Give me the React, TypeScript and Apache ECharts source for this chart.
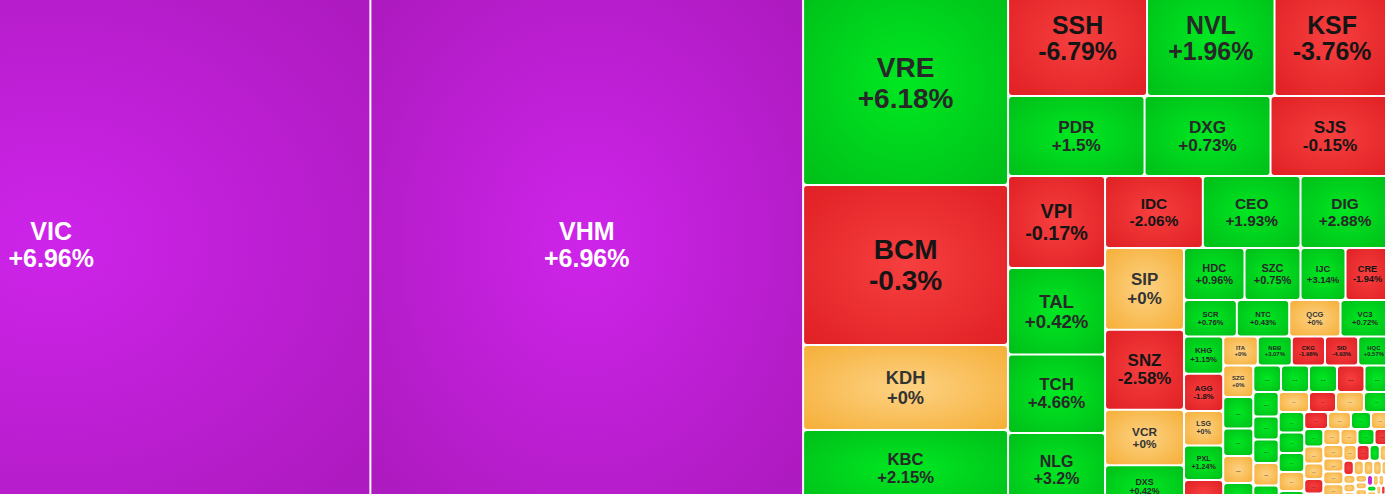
import React, { useEffect, useRef } from 'react';
import * as echarts from 'echarts';

// ---------------- data ----------------
// tickers in the order the squarified layout places them
const tickers: string[] = [
  'VIC', 'VHM',
  'VRE', 'BCM', 'KDH', 'KBC',
  'SSH', 'NVL', 'KSF',
  'PDR', 'DXG', 'SJS',
  'VPI', 'TAL', 'TCH', 'NLG',
  'IDC', 'CEO', 'DIG',
  'SIP', 'SNZ', 'VCR', 'DXS',
  'HDC', 'SZC', 'IJC', 'CRE',
  'SCR', 'NTC', 'QCG', 'VC3',
  'KHG', 'AGG', 'LSG', 'PXL', 'TDC',
  'ITA', 'NBB', 'CKG', 'SID', 'HQC',
  'SZG', 'HDG', 'NTL', 'ITC', 'LDG',
  'TIX', 'FDC', 'D2D', 'NVT', 'DRH',
  'HPX', 'TIG', 'API', 'IDJ', 'CSC',
  'HAR', 'PTL', 'VRC', 'BII',
  'PVL', 'PPI', 'DTA', 'OGC', 'LGL',
  'CCL', 'TN1', 'BCR', 'VPH',
  'HTN', 'KOS', 'UIC', 'SGR', 'NDN',
  'LHG', 'PVR', 'TDH', 'HU1',
  'IDV', 'TIP', 'SZL', 'NHA', 'HLD', 'VGC', 'LEC', 'CIG', 'HU3', 'NRC',
  'DIH', 'C21', 'PWA', 'HD2', 'V21', 'SDU', 'L14', 'D11', 'TID', 'VNI',
  'HD6', 'CLX', 'PDC', 'BVL', 'DLR', 'KDM', 'HHS', 'SJC', 'VC7', 'NTB',
  'HDA', 'QNC', 'VRG', 'NHN', 'DTD', 'HTI', 'SDA', 'NDX', 'TDP', 'VCG', 'BAX',
];

// relative market capitalisation (size of each tile)
const marketCap: number[] = [
  336170, 227869,
  41820, 32800, 17425, 15888,
  15985, 14663, 13225,
  10920, 10080, 9520,
  8924, 8390, 7615, 7227,
  7042, 7034, 6408,
  6454, 6320, 4392, 3334,
  3146, 2912, 2340, 2288,
  1927, 1913, 1872, 1789,
  1462, 1458, 1352, 1352, 1078,
  1003, 986, 963, 963, 908,
  948, 948, 828, 813, 737,
  734, 742, 742, 729, 663,
  622, 584, 597, 572, 559,
  606, 540, 560, 510,
  523, 523, 485, 485, 421,
  405, 391, 340, 315,
  334, 325, 296, 277, 267,
  275, 272, 272, 240,
  272, 262, 255, 250, 218, 210, 204, 160, 154, 148,
  142, 136, 120, 112, 106, 100, 95, 90, 85, 80,
  75, 70, 66, 62, 60, 58, 57, 56, 54, 50,
  46, 42, 39, 36, 33, 30, 27, 24, 21, 18, 15,
];

// % price change
const change: number[] = [
  6.96, 6.96,
  6.18, -0.3, 0, 2.15,
  -6.79, 1.96, -3.76,
  1.5, 0.73, -0.15,
  -0.17, 0.42, 4.66, 3.2,
  -2.06, 1.93, 2.88,
  0, -2.58, 0, 0.42,
  0.96, 0.75, 3.14, -1.94,
  0.76, 0.43, 0, 0.72,
  1.15, -1.8, 0, 1.24, -1.12,
  0, 3.07, -1.98, -4.93, 0.57,
  0, 1.25, 0.88, 0, 2.1,
  0.6, 1.4, 0.95, -0.8, 1.9,
  1.1, 0.74, 2.5, 0, 0.45,
  0, -1.6, 0, 3.4,
  2.2, 4.1, 1.3, 0, 0.9,
  -0.7, 0, 2.9, 0,
  1.6, 0, 0, -2.4, 0,
  0, 0, 1.8, -3.1,
  0, 0, 0, 0, 0, 0, -1.3, 0.9, 0, -2.2,
  0, 0, 0, 0, 0, 0, 0, 2.6, 0, 0,
  0, 0, -1.4, 9.86, 0, 0, 0, 1.05, 0, 0,
  0, 0, -0.6, 0, 0, 0, 0, 0.7, 0, 0, 0,
];

// number of tiles in each successive squarified row / column
const rowGroups: number[] = [1, 1, 4, 3, 3, 4, 3, 4, 4, 4, 5, 5, 5, 5, 5, 4, 5, 4, 5, 4];

// ---------------- styling ----------------
const FONT = 'Liberation Sans, Arial, Helvetica, sans-serif';

const TONES = {
  ceil: { inner: '#ce24ea', outer: '#ad1abf', text: '#ffffff' },
  up: { inner: '#00e822', outer: '#00c119', text: '#282828' },
  down: { inner: '#f73f3f', outer: '#e12226', text: '#151515' },
  ref: { inner: '#fdd283', outer: '#f6b13d', text: '#333333' },
};

function tone(ch: number) {
  if (ch >= 6.9) return TONES.ceil;
  if (ch > 0) return TONES.up;
  if (ch < 0) return TONES.down;
  return TONES.ref;
}

function pctText(ch: number) {
  return (ch >= 0 ? '+' : '') + String(ch) + '%';
}

type LabelInfo = { show: boolean; text: string; fontSize: number };

function leaf(i: number, info?: Map<string, LabelInfo>) {
  const t = tone(change[i]);
  const li = info ? info.get(tickers[i]) : undefined;
  return {
    name: tickers[i],
    value: marketCap[i],
    itemStyle: {
      color: {
        type: 'radial',
        x: 0.5,
        y: 0.5,
        r: 0.66,
        colorStops: [
          { offset: 0, color: t.inner },
          { offset: 1, color: t.outer },
        ],
      },
    },
    label:
      li && li.show
        ? {
            show: true,
            formatter: li.text,
            fontSize: li.fontSize,
            lineHeight: li.fontSize * 1.08,
            color: t.text,
          }
        : { show: false },
  };
}

function buildTree(info?: Map<string, LabelInfo>) {
  let start = 0;
  const ranges: [number, number][] = [];
  for (const n of rowGroups) {
    ranges.push([start, start + n]);
    start += n;
  }
  let rest: any[] = [];
  for (let i = start; i < tickers.length; i++) rest.push(leaf(i, info));
  for (let g = ranges.length - 1; g >= 0; g--) {
    const [a, b] = ranges[g];
    const row: any[] = [];
    for (let i = a; i < b; i++) row.push(leaf(i, info));
    if (rest.length) row.push({ name: '', children: rest });
    rest = row;
  }
  return rest;
}

function computeLabels(chart: echarts.ECharts): Map<string, LabelInfo> {
  const sizes = new Map<string, { w: number; h: number }>();
  try {
    const sm = (chart as any).getModel().getSeriesByIndex(0);
    const tree = sm.getData().tree;
    tree.root.eachNode((node: any) => {
      if (!node.children || node.children.length === 0) {
        const l = node.getLayout();
        if (l && node.name) sizes.set(node.name, { w: l.width, h: l.height });
      }
    });
  } catch (e) {
    // fall back to estimated sizes below
  }
  const ctx = document.createElement('canvas').getContext('2d');
  const measure = (s: string, fs: number) => {
    if (!ctx) return s.length * fs * 0.62;
    ctx.font = `bold ${fs}px ${FONT}`;
    return ctx.measureText(s).width;
  };
  const info = new Map<string, LabelInfo>();
  tickers.forEach((name, i) => {
    const side = Math.sqrt(marketCap[i]) - 2;
    const sz = sizes.get(name) || { w: side, h: side };
    const ceil = change[i] >= 6.9;
    const fs = Math.min(ceil ? 25 : 28, 0.22 * Math.min(sz.w, sz.h));
    const line2 = pctText(change[i]);
    const wide = Math.max(measure(name, fs), measure(line2, fs));
    if (wide <= sz.w - 8.5 && sz.h >= 26) {
      info.set(name, { show: true, text: name + '\n' + line2, fontSize: fs });
    } else if (sz.w >= 10 && sz.h >= 7) {
      info.set(name, { show: true, text: '...', fontSize: Math.max(4, fs) });
    } else {
      info.set(name, { show: false, text: '', fontSize: fs });
    }
  });
  return info;
}

function baseOption(data: any[]) {
  return {
    animation: false,
    backgroundColor: '#ffffff',
    series: [
      {
        type: 'treemap',
        left: -267,
        top: -18,
        width: 1655.5,
        height: 524.5,
        squareRatio: 1.5,
        sort: false,
        roam: false,
        nodeClick: false,
        silent: true,
        breadcrumb: { show: false },
        itemStyle: {
          gapWidth: 2,
          borderWidth: 0,
          borderColor: '#ffffff',
          borderRadius: 3,
        },
        upperLabel: { show: false },
        label: {
          show: true,
          position: 'inside',
          padding: 0,
          overflow: 'none',
          fontFamily: FONT,
          fontWeight: 'bold',
        },
        emphasis: { disabled: true },
        data,
      },
    ],
  };
}

export default function App() {
  const ref = useRef<HTMLDivElement>(null);
  useEffect(() => {
    const el = ref.current;
    if (!el) return;
    const chart = echarts.init(el, undefined, { renderer: 'svg' });
    chart.setOption(baseOption(buildTree()) as any);
    const info = computeLabels(chart);
    chart.setOption({ series: [{ data: buildTree(info) }] } as any);
    return () => {
      chart.dispose();
    };
  }, []);
  return (
    <div
      ref={ref}
      style={{
        position: 'absolute',
        left: 0,
        top: 0,
        width: 1385,
        height: 494,
        overflow: 'hidden',
        background: '#ffffff',
      }}
    />
  );
}
